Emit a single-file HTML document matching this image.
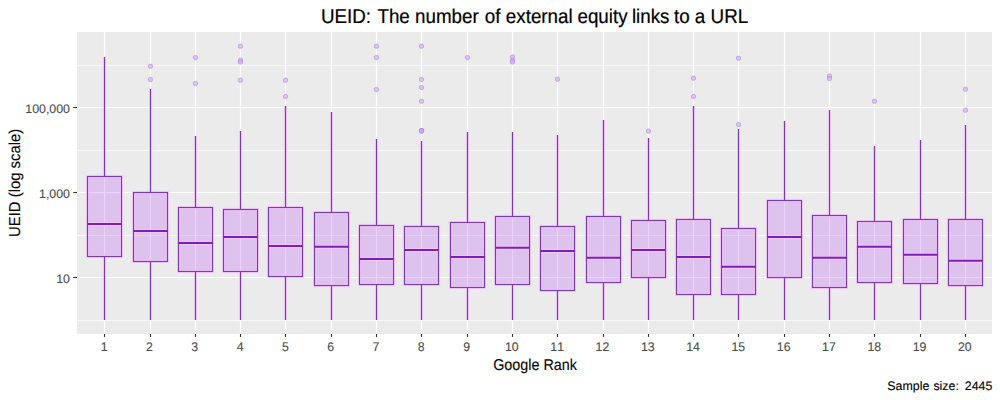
<!DOCTYPE html>
<html><head><meta charset="utf-8"><style>
html,body{margin:0;padding:0;background:#fff;}
body{width:1000px;height:400px;position:relative;overflow:hidden;font-family:"Liberation Sans",sans-serif;}
svg{position:absolute;left:0;top:0;}
text{font-family:"Liberation Sans",sans-serif;text-rendering:geometricPrecision;font-kerning:none;white-space:pre;}
</style></head><body>
<svg width="1000" height="400" viewBox="0 0 1000 400">
<rect x="77" y="32" width="915" height="302" fill="#EBEBEB"/>
<line x1="77" x2="992" y1="320.5" y2="320.5" stroke="#F9F9F9" stroke-width="1"/>
<line x1="77" x2="992" y1="235.5" y2="235.5" stroke="#F9F9F9" stroke-width="1"/>
<line x1="77" x2="992" y1="150.5" y2="150.5" stroke="#F9F9F9" stroke-width="1"/>
<line x1="77" x2="992" y1="65.5" y2="65.5" stroke="#F9F9F9" stroke-width="1"/>
<line x1="77" x2="992" y1="277.5" y2="277.5" stroke="#FFFFFF" stroke-width="1.2"/>
<line x1="77" x2="992" y1="192.5" y2="192.5" stroke="#FFFFFF" stroke-width="1.2"/>
<line x1="77" x2="992" y1="107.5" y2="107.5" stroke="#FFFFFF" stroke-width="1.2"/>
<line x1="104.5" x2="104.5" y1="32" y2="334" stroke="#FFFFFF" stroke-width="1.2"/>
<line x1="150.5" x2="150.5" y1="32" y2="334" stroke="#FFFFFF" stroke-width="1.2"/>
<line x1="195.5" x2="195.5" y1="32" y2="334" stroke="#FFFFFF" stroke-width="1.2"/>
<line x1="240.5" x2="240.5" y1="32" y2="334" stroke="#FFFFFF" stroke-width="1.2"/>
<line x1="285.5" x2="285.5" y1="32" y2="334" stroke="#FFFFFF" stroke-width="1.2"/>
<line x1="331.5" x2="331.5" y1="32" y2="334" stroke="#FFFFFF" stroke-width="1.2"/>
<line x1="376.5" x2="376.5" y1="32" y2="334" stroke="#FFFFFF" stroke-width="1.2"/>
<line x1="421.5" x2="421.5" y1="32" y2="334" stroke="#FFFFFF" stroke-width="1.2"/>
<line x1="467.5" x2="467.5" y1="32" y2="334" stroke="#FFFFFF" stroke-width="1.2"/>
<line x1="512.5" x2="512.5" y1="32" y2="334" stroke="#FFFFFF" stroke-width="1.2"/>
<line x1="557.5" x2="557.5" y1="32" y2="334" stroke="#FFFFFF" stroke-width="1.2"/>
<line x1="603.5" x2="603.5" y1="32" y2="334" stroke="#FFFFFF" stroke-width="1.2"/>
<line x1="648.5" x2="648.5" y1="32" y2="334" stroke="#FFFFFF" stroke-width="1.2"/>
<line x1="693.5" x2="693.5" y1="32" y2="334" stroke="#FFFFFF" stroke-width="1.2"/>
<line x1="738.5" x2="738.5" y1="32" y2="334" stroke="#FFFFFF" stroke-width="1.2"/>
<line x1="784.5" x2="784.5" y1="32" y2="334" stroke="#FFFFFF" stroke-width="1.2"/>
<line x1="829.5" x2="829.5" y1="32" y2="334" stroke="#FFFFFF" stroke-width="1.2"/>
<line x1="874.5" x2="874.5" y1="32" y2="334" stroke="#FFFFFF" stroke-width="1.2"/>
<line x1="920.5" x2="920.5" y1="32" y2="334" stroke="#FFFFFF" stroke-width="1.2"/>
<line x1="965.5" x2="965.5" y1="32" y2="334" stroke="#FFFFFF" stroke-width="1.2"/>
<line x1="104.5" x2="104.5" y1="57" y2="176.5" stroke="#F7C6FF" stroke-opacity="0.75" stroke-width="3.2"/>
<line x1="104.5" x2="104.5" y1="256.5" y2="320" stroke="#F7C6FF" stroke-opacity="0.75" stroke-width="3.2"/>
<rect x="87.5" y="176.5" width="34.0" height="80.0" fill="#A020F0" fill-opacity="0.2"/>
<rect x="87.5" y="176.5" width="34.0" height="80.0" fill="none" stroke="#F7C6FF" stroke-opacity="0.75" stroke-width="3.2"/>
<line x1="87.5" x2="121.5" y1="224" y2="224" stroke="#F7C6FF" stroke-opacity="0.75" stroke-width="4.25"/>
<line x1="104.5" x2="104.5" y1="57" y2="176.5" stroke="#7C3AB0" stroke-width="1.15"/>
<line x1="104.5" x2="104.5" y1="256.5" y2="320" stroke="#7C3AB0" stroke-width="1.15"/>
<rect x="87.5" y="176.5" width="34.0" height="80.0" fill="none" stroke="#7C3AB0" stroke-width="1.15"/>
<line x1="87.5" x2="121.5" y1="224" y2="224" stroke="#7A20B8" stroke-width="2.2"/>
<line x1="150.5" x2="150.5" y1="89" y2="192.5" stroke="#F7C6FF" stroke-opacity="0.75" stroke-width="3.2"/>
<line x1="150.5" x2="150.5" y1="261.5" y2="320" stroke="#F7C6FF" stroke-opacity="0.75" stroke-width="3.2"/>
<rect x="133.5" y="192.5" width="34.0" height="69.0" fill="#A020F0" fill-opacity="0.2"/>
<rect x="133.5" y="192.5" width="34.0" height="69.0" fill="none" stroke="#F7C6FF" stroke-opacity="0.75" stroke-width="3.2"/>
<line x1="133.5" x2="167.5" y1="231" y2="231" stroke="#F7C6FF" stroke-opacity="0.75" stroke-width="4.25"/>
<line x1="150.5" x2="150.5" y1="89" y2="192.5" stroke="#7C3AB0" stroke-width="1.15"/>
<line x1="150.5" x2="150.5" y1="261.5" y2="320" stroke="#7C3AB0" stroke-width="1.15"/>
<rect x="133.5" y="192.5" width="34.0" height="69.0" fill="none" stroke="#7C3AB0" stroke-width="1.15"/>
<line x1="133.5" x2="167.5" y1="231" y2="231" stroke="#7A20B8" stroke-width="2.2"/>
<circle cx="150.5" cy="66.25" r="2.2" fill="#D6B2F4" fill-opacity="0.75" stroke="#A070D0" stroke-opacity="0.45" stroke-width="1.0"/>
<circle cx="150.5" cy="79.5" r="2.2" fill="#D6B2F4" fill-opacity="0.75" stroke="#A070D0" stroke-opacity="0.45" stroke-width="1.0"/>
<line x1="195.5" x2="195.5" y1="136" y2="207.5" stroke="#F7C6FF" stroke-opacity="0.75" stroke-width="3.2"/>
<line x1="195.5" x2="195.5" y1="271.5" y2="320" stroke="#F7C6FF" stroke-opacity="0.75" stroke-width="3.2"/>
<rect x="178.5" y="207.5" width="34.0" height="64.0" fill="#A020F0" fill-opacity="0.2"/>
<rect x="178.5" y="207.5" width="34.0" height="64.0" fill="none" stroke="#F7C6FF" stroke-opacity="0.75" stroke-width="3.2"/>
<line x1="178.5" x2="212.5" y1="243" y2="243" stroke="#F7C6FF" stroke-opacity="0.75" stroke-width="4.25"/>
<line x1="195.5" x2="195.5" y1="136" y2="207.5" stroke="#7C3AB0" stroke-width="1.15"/>
<line x1="195.5" x2="195.5" y1="271.5" y2="320" stroke="#7C3AB0" stroke-width="1.15"/>
<rect x="178.5" y="207.5" width="34.0" height="64.0" fill="none" stroke="#7C3AB0" stroke-width="1.15"/>
<line x1="178.5" x2="212.5" y1="243" y2="243" stroke="#7A20B8" stroke-width="2.2"/>
<circle cx="195.5" cy="57.5" r="2.2" fill="#D6B2F4" fill-opacity="0.75" stroke="#A070D0" stroke-opacity="0.45" stroke-width="1.0"/>
<circle cx="195.5" cy="83.5" r="2.2" fill="#D6B2F4" fill-opacity="0.75" stroke="#A070D0" stroke-opacity="0.45" stroke-width="1.0"/>
<line x1="240.5" x2="240.5" y1="131" y2="209.5" stroke="#F7C6FF" stroke-opacity="0.75" stroke-width="3.2"/>
<line x1="240.5" x2="240.5" y1="271.5" y2="320" stroke="#F7C6FF" stroke-opacity="0.75" stroke-width="3.2"/>
<rect x="223.5" y="209.5" width="34.0" height="62.0" fill="#A020F0" fill-opacity="0.2"/>
<rect x="223.5" y="209.5" width="34.0" height="62.0" fill="none" stroke="#F7C6FF" stroke-opacity="0.75" stroke-width="3.2"/>
<line x1="223.5" x2="257.5" y1="237" y2="237" stroke="#F7C6FF" stroke-opacity="0.75" stroke-width="4.25"/>
<line x1="240.5" x2="240.5" y1="131" y2="209.5" stroke="#7C3AB0" stroke-width="1.15"/>
<line x1="240.5" x2="240.5" y1="271.5" y2="320" stroke="#7C3AB0" stroke-width="1.15"/>
<rect x="223.5" y="209.5" width="34.0" height="62.0" fill="none" stroke="#7C3AB0" stroke-width="1.15"/>
<line x1="223.5" x2="257.5" y1="237" y2="237" stroke="#7A20B8" stroke-width="2.2"/>
<circle cx="240.5" cy="46.25" r="2.2" fill="#D6B2F4" fill-opacity="0.75" stroke="#A070D0" stroke-opacity="0.45" stroke-width="1.0"/>
<circle cx="240.5" cy="60.25" r="2.2" fill="#D6B2F4" fill-opacity="0.75" stroke="#A070D0" stroke-opacity="0.45" stroke-width="1.0"/>
<circle cx="240.5" cy="62" r="2.2" fill="#D6B2F4" fill-opacity="0.75" stroke="#A070D0" stroke-opacity="0.45" stroke-width="1.0"/>
<circle cx="240.5" cy="80.25" r="2.2" fill="#D6B2F4" fill-opacity="0.75" stroke="#A070D0" stroke-opacity="0.45" stroke-width="1.0"/>
<line x1="285.5" x2="285.5" y1="106" y2="207.5" stroke="#F7C6FF" stroke-opacity="0.75" stroke-width="3.2"/>
<line x1="285.5" x2="285.5" y1="276.5" y2="320" stroke="#F7C6FF" stroke-opacity="0.75" stroke-width="3.2"/>
<rect x="268.5" y="207.5" width="34.0" height="69.0" fill="#A020F0" fill-opacity="0.2"/>
<rect x="268.5" y="207.5" width="34.0" height="69.0" fill="none" stroke="#F7C6FF" stroke-opacity="0.75" stroke-width="3.2"/>
<line x1="268.5" x2="302.5" y1="246" y2="246" stroke="#F7C6FF" stroke-opacity="0.75" stroke-width="4.25"/>
<line x1="285.5" x2="285.5" y1="106" y2="207.5" stroke="#7C3AB0" stroke-width="1.15"/>
<line x1="285.5" x2="285.5" y1="276.5" y2="320" stroke="#7C3AB0" stroke-width="1.15"/>
<rect x="268.5" y="207.5" width="34.0" height="69.0" fill="none" stroke="#7C3AB0" stroke-width="1.15"/>
<line x1="268.5" x2="302.5" y1="246" y2="246" stroke="#7A20B8" stroke-width="2.2"/>
<circle cx="285.5" cy="80.25" r="2.2" fill="#D6B2F4" fill-opacity="0.75" stroke="#A070D0" stroke-opacity="0.45" stroke-width="1.0"/>
<circle cx="285.5" cy="96.5" r="2.2" fill="#D6B2F4" fill-opacity="0.75" stroke="#A070D0" stroke-opacity="0.45" stroke-width="1.0"/>
<line x1="331.5" x2="331.5" y1="112" y2="212.5" stroke="#F7C6FF" stroke-opacity="0.75" stroke-width="3.2"/>
<line x1="331.5" x2="331.5" y1="285.5" y2="320" stroke="#F7C6FF" stroke-opacity="0.75" stroke-width="3.2"/>
<rect x="314.5" y="212.5" width="34.0" height="73.0" fill="#A020F0" fill-opacity="0.2"/>
<rect x="314.5" y="212.5" width="34.0" height="73.0" fill="none" stroke="#F7C6FF" stroke-opacity="0.75" stroke-width="3.2"/>
<line x1="314.5" x2="348.5" y1="246.75" y2="246.75" stroke="#F7C6FF" stroke-opacity="0.75" stroke-width="4.25"/>
<line x1="331.5" x2="331.5" y1="112" y2="212.5" stroke="#7C3AB0" stroke-width="1.15"/>
<line x1="331.5" x2="331.5" y1="285.5" y2="320" stroke="#7C3AB0" stroke-width="1.15"/>
<rect x="314.5" y="212.5" width="34.0" height="73.0" fill="none" stroke="#7C3AB0" stroke-width="1.15"/>
<line x1="314.5" x2="348.5" y1="246.75" y2="246.75" stroke="#7A20B8" stroke-width="2.2"/>
<line x1="376.5" x2="376.5" y1="139" y2="225.5" stroke="#F7C6FF" stroke-opacity="0.75" stroke-width="3.2"/>
<line x1="376.5" x2="376.5" y1="284.5" y2="320" stroke="#F7C6FF" stroke-opacity="0.75" stroke-width="3.2"/>
<rect x="359.5" y="225.5" width="34.0" height="59.0" fill="#A020F0" fill-opacity="0.2"/>
<rect x="359.5" y="225.5" width="34.0" height="59.0" fill="none" stroke="#F7C6FF" stroke-opacity="0.75" stroke-width="3.2"/>
<line x1="359.5" x2="393.5" y1="259" y2="259" stroke="#F7C6FF" stroke-opacity="0.75" stroke-width="4.25"/>
<line x1="376.5" x2="376.5" y1="139" y2="225.5" stroke="#7C3AB0" stroke-width="1.15"/>
<line x1="376.5" x2="376.5" y1="284.5" y2="320" stroke="#7C3AB0" stroke-width="1.15"/>
<rect x="359.5" y="225.5" width="34.0" height="59.0" fill="none" stroke="#7C3AB0" stroke-width="1.15"/>
<line x1="359.5" x2="393.5" y1="259" y2="259" stroke="#7A20B8" stroke-width="2.2"/>
<circle cx="376.5" cy="46.25" r="2.2" fill="#D6B2F4" fill-opacity="0.75" stroke="#A070D0" stroke-opacity="0.45" stroke-width="1.0"/>
<circle cx="376.5" cy="57.5" r="2.2" fill="#D6B2F4" fill-opacity="0.75" stroke="#A070D0" stroke-opacity="0.45" stroke-width="1.0"/>
<circle cx="376.5" cy="89.5" r="2.2" fill="#D6B2F4" fill-opacity="0.75" stroke="#A070D0" stroke-opacity="0.45" stroke-width="1.0"/>
<line x1="421.5" x2="421.5" y1="141" y2="226.5" stroke="#F7C6FF" stroke-opacity="0.75" stroke-width="3.2"/>
<line x1="421.5" x2="421.5" y1="284.5" y2="320" stroke="#F7C6FF" stroke-opacity="0.75" stroke-width="3.2"/>
<rect x="404.5" y="226.5" width="34.0" height="58.0" fill="#A020F0" fill-opacity="0.2"/>
<rect x="404.5" y="226.5" width="34.0" height="58.0" fill="none" stroke="#F7C6FF" stroke-opacity="0.75" stroke-width="3.2"/>
<line x1="404.5" x2="438.5" y1="250" y2="250" stroke="#F7C6FF" stroke-opacity="0.75" stroke-width="4.25"/>
<line x1="421.5" x2="421.5" y1="141" y2="226.5" stroke="#7C3AB0" stroke-width="1.15"/>
<line x1="421.5" x2="421.5" y1="284.5" y2="320" stroke="#7C3AB0" stroke-width="1.15"/>
<rect x="404.5" y="226.5" width="34.0" height="58.0" fill="none" stroke="#7C3AB0" stroke-width="1.15"/>
<line x1="404.5" x2="438.5" y1="250" y2="250" stroke="#7A20B8" stroke-width="2.2"/>
<circle cx="421.5" cy="46.25" r="2.2" fill="#D6B2F4" fill-opacity="0.75" stroke="#A070D0" stroke-opacity="0.45" stroke-width="1.0"/>
<circle cx="421.5" cy="79.5" r="2.2" fill="#D6B2F4" fill-opacity="0.75" stroke="#A070D0" stroke-opacity="0.45" stroke-width="1.0"/>
<circle cx="421.5" cy="87.5" r="2.2" fill="#D6B2F4" fill-opacity="0.75" stroke="#A070D0" stroke-opacity="0.45" stroke-width="1.0"/>
<circle cx="421.5" cy="101.25" r="2.2" fill="#D6B2F4" fill-opacity="0.75" stroke="#A070D0" stroke-opacity="0.45" stroke-width="1.0"/>
<circle cx="421.5" cy="130.5" r="2.2" fill="#D6B2F4" fill-opacity="0.75" stroke="#A070D0" stroke-opacity="0.45" stroke-width="1.0"/>
<circle cx="421.5" cy="130.7" r="2.2" fill="#D6B2F4" fill-opacity="0.75" stroke="#A070D0" stroke-opacity="0.45" stroke-width="1.0"/>
<circle cx="421.5" cy="130.9" r="2.2" fill="#D6B2F4" fill-opacity="0.75" stroke="#A070D0" stroke-opacity="0.45" stroke-width="1.0"/>
<circle cx="421.5" cy="131.0" r="2.2" fill="#D6B2F4" fill-opacity="0.75" stroke="#A070D0" stroke-opacity="0.45" stroke-width="1.0"/>
<line x1="467.5" x2="467.5" y1="132" y2="222.5" stroke="#F7C6FF" stroke-opacity="0.75" stroke-width="3.2"/>
<line x1="467.5" x2="467.5" y1="287.5" y2="320" stroke="#F7C6FF" stroke-opacity="0.75" stroke-width="3.2"/>
<rect x="450.5" y="222.5" width="34.0" height="65.0" fill="#A020F0" fill-opacity="0.2"/>
<rect x="450.5" y="222.5" width="34.0" height="65.0" fill="none" stroke="#F7C6FF" stroke-opacity="0.75" stroke-width="3.2"/>
<line x1="450.5" x2="484.5" y1="257" y2="257" stroke="#F7C6FF" stroke-opacity="0.75" stroke-width="4.25"/>
<line x1="467.5" x2="467.5" y1="132" y2="222.5" stroke="#7C3AB0" stroke-width="1.15"/>
<line x1="467.5" x2="467.5" y1="287.5" y2="320" stroke="#7C3AB0" stroke-width="1.15"/>
<rect x="450.5" y="222.5" width="34.0" height="65.0" fill="none" stroke="#7C3AB0" stroke-width="1.15"/>
<line x1="450.5" x2="484.5" y1="257" y2="257" stroke="#7A20B8" stroke-width="2.2"/>
<circle cx="467.5" cy="57.5" r="2.2" fill="#D6B2F4" fill-opacity="0.75" stroke="#A070D0" stroke-opacity="0.45" stroke-width="1.0"/>
<line x1="512.5" x2="512.5" y1="132" y2="216.5" stroke="#F7C6FF" stroke-opacity="0.75" stroke-width="3.2"/>
<line x1="512.5" x2="512.5" y1="284.5" y2="320" stroke="#F7C6FF" stroke-opacity="0.75" stroke-width="3.2"/>
<rect x="495.5" y="216.5" width="34.0" height="68.0" fill="#A020F0" fill-opacity="0.2"/>
<rect x="495.5" y="216.5" width="34.0" height="68.0" fill="none" stroke="#F7C6FF" stroke-opacity="0.75" stroke-width="3.2"/>
<line x1="495.5" x2="529.5" y1="247.75" y2="247.75" stroke="#F7C6FF" stroke-opacity="0.75" stroke-width="4.25"/>
<line x1="512.5" x2="512.5" y1="132" y2="216.5" stroke="#7C3AB0" stroke-width="1.15"/>
<line x1="512.5" x2="512.5" y1="284.5" y2="320" stroke="#7C3AB0" stroke-width="1.15"/>
<rect x="495.5" y="216.5" width="34.0" height="68.0" fill="none" stroke="#7C3AB0" stroke-width="1.15"/>
<line x1="495.5" x2="529.5" y1="247.75" y2="247.75" stroke="#7A20B8" stroke-width="2.2"/>
<circle cx="512.5" cy="57" r="2.2" fill="#D6B2F4" fill-opacity="0.75" stroke="#A070D0" stroke-opacity="0.45" stroke-width="1.0"/>
<circle cx="512.5" cy="60.25" r="2.2" fill="#D6B2F4" fill-opacity="0.75" stroke="#A070D0" stroke-opacity="0.45" stroke-width="1.0"/>
<circle cx="512.5" cy="62" r="2.2" fill="#D6B2F4" fill-opacity="0.75" stroke="#A070D0" stroke-opacity="0.45" stroke-width="1.0"/>
<line x1="557.5" x2="557.5" y1="135" y2="226.5" stroke="#F7C6FF" stroke-opacity="0.75" stroke-width="3.2"/>
<line x1="557.5" x2="557.5" y1="290.5" y2="320" stroke="#F7C6FF" stroke-opacity="0.75" stroke-width="3.2"/>
<rect x="540.5" y="226.5" width="34.0" height="64.0" fill="#A020F0" fill-opacity="0.2"/>
<rect x="540.5" y="226.5" width="34.0" height="64.0" fill="none" stroke="#F7C6FF" stroke-opacity="0.75" stroke-width="3.2"/>
<line x1="540.5" x2="574.5" y1="251" y2="251" stroke="#F7C6FF" stroke-opacity="0.75" stroke-width="4.25"/>
<line x1="557.5" x2="557.5" y1="135" y2="226.5" stroke="#7C3AB0" stroke-width="1.15"/>
<line x1="557.5" x2="557.5" y1="290.5" y2="320" stroke="#7C3AB0" stroke-width="1.15"/>
<rect x="540.5" y="226.5" width="34.0" height="64.0" fill="none" stroke="#7C3AB0" stroke-width="1.15"/>
<line x1="540.5" x2="574.5" y1="251" y2="251" stroke="#7A20B8" stroke-width="2.2"/>
<circle cx="557.5" cy="79.25" r="2.2" fill="#D6B2F4" fill-opacity="0.75" stroke="#A070D0" stroke-opacity="0.45" stroke-width="1.0"/>
<line x1="603.5" x2="603.5" y1="120" y2="216.5" stroke="#F7C6FF" stroke-opacity="0.75" stroke-width="3.2"/>
<line x1="603.5" x2="603.5" y1="282.5" y2="320" stroke="#F7C6FF" stroke-opacity="0.75" stroke-width="3.2"/>
<rect x="586.5" y="216.5" width="34.0" height="66.0" fill="#A020F0" fill-opacity="0.2"/>
<rect x="586.5" y="216.5" width="34.0" height="66.0" fill="none" stroke="#F7C6FF" stroke-opacity="0.75" stroke-width="3.2"/>
<line x1="586.5" x2="620.5" y1="257.75" y2="257.75" stroke="#F7C6FF" stroke-opacity="0.75" stroke-width="4.25"/>
<line x1="603.5" x2="603.5" y1="120" y2="216.5" stroke="#7C3AB0" stroke-width="1.15"/>
<line x1="603.5" x2="603.5" y1="282.5" y2="320" stroke="#7C3AB0" stroke-width="1.15"/>
<rect x="586.5" y="216.5" width="34.0" height="66.0" fill="none" stroke="#7C3AB0" stroke-width="1.15"/>
<line x1="586.5" x2="620.5" y1="257.75" y2="257.75" stroke="#7A20B8" stroke-width="2.2"/>
<line x1="648.5" x2="648.5" y1="138" y2="220.5" stroke="#F7C6FF" stroke-opacity="0.75" stroke-width="3.2"/>
<line x1="648.5" x2="648.5" y1="277.5" y2="320" stroke="#F7C6FF" stroke-opacity="0.75" stroke-width="3.2"/>
<rect x="631.5" y="220.5" width="34.0" height="57.0" fill="#A020F0" fill-opacity="0.2"/>
<rect x="631.5" y="220.5" width="34.0" height="57.0" fill="none" stroke="#F7C6FF" stroke-opacity="0.75" stroke-width="3.2"/>
<line x1="631.5" x2="665.5" y1="250" y2="250" stroke="#F7C6FF" stroke-opacity="0.75" stroke-width="4.25"/>
<line x1="648.5" x2="648.5" y1="138" y2="220.5" stroke="#7C3AB0" stroke-width="1.15"/>
<line x1="648.5" x2="648.5" y1="277.5" y2="320" stroke="#7C3AB0" stroke-width="1.15"/>
<rect x="631.5" y="220.5" width="34.0" height="57.0" fill="none" stroke="#7C3AB0" stroke-width="1.15"/>
<line x1="631.5" x2="665.5" y1="250" y2="250" stroke="#7A20B8" stroke-width="2.2"/>
<circle cx="648.5" cy="131.1" r="2.2" fill="#D6B2F4" fill-opacity="0.75" stroke="#A070D0" stroke-opacity="0.45" stroke-width="1.0"/>
<line x1="693.5" x2="693.5" y1="106" y2="219.5" stroke="#F7C6FF" stroke-opacity="0.75" stroke-width="3.2"/>
<line x1="693.5" x2="693.5" y1="294.5" y2="320" stroke="#F7C6FF" stroke-opacity="0.75" stroke-width="3.2"/>
<rect x="676.5" y="219.5" width="34.0" height="75.0" fill="#A020F0" fill-opacity="0.2"/>
<rect x="676.5" y="219.5" width="34.0" height="75.0" fill="none" stroke="#F7C6FF" stroke-opacity="0.75" stroke-width="3.2"/>
<line x1="676.5" x2="710.5" y1="257" y2="257" stroke="#F7C6FF" stroke-opacity="0.75" stroke-width="4.25"/>
<line x1="693.5" x2="693.5" y1="106" y2="219.5" stroke="#7C3AB0" stroke-width="1.15"/>
<line x1="693.5" x2="693.5" y1="294.5" y2="320" stroke="#7C3AB0" stroke-width="1.15"/>
<rect x="676.5" y="219.5" width="34.0" height="75.0" fill="none" stroke="#7C3AB0" stroke-width="1.15"/>
<line x1="676.5" x2="710.5" y1="257" y2="257" stroke="#7A20B8" stroke-width="2.2"/>
<circle cx="693.5" cy="78.25" r="2.2" fill="#D6B2F4" fill-opacity="0.75" stroke="#A070D0" stroke-opacity="0.45" stroke-width="1.0"/>
<circle cx="693.5" cy="96.5" r="2.2" fill="#D6B2F4" fill-opacity="0.75" stroke="#A070D0" stroke-opacity="0.45" stroke-width="1.0"/>
<line x1="738.5" x2="738.5" y1="129" y2="228.5" stroke="#F7C6FF" stroke-opacity="0.75" stroke-width="3.2"/>
<line x1="738.5" x2="738.5" y1="294.5" y2="320" stroke="#F7C6FF" stroke-opacity="0.75" stroke-width="3.2"/>
<rect x="721.5" y="228.5" width="34.0" height="66.0" fill="#A020F0" fill-opacity="0.2"/>
<rect x="721.5" y="228.5" width="34.0" height="66.0" fill="none" stroke="#F7C6FF" stroke-opacity="0.75" stroke-width="3.2"/>
<line x1="721.5" x2="755.5" y1="266.75" y2="266.75" stroke="#F7C6FF" stroke-opacity="0.75" stroke-width="4.25"/>
<line x1="738.5" x2="738.5" y1="129" y2="228.5" stroke="#7C3AB0" stroke-width="1.15"/>
<line x1="738.5" x2="738.5" y1="294.5" y2="320" stroke="#7C3AB0" stroke-width="1.15"/>
<rect x="721.5" y="228.5" width="34.0" height="66.0" fill="none" stroke="#7C3AB0" stroke-width="1.15"/>
<line x1="721.5" x2="755.5" y1="266.75" y2="266.75" stroke="#7A20B8" stroke-width="2.2"/>
<circle cx="738.5" cy="58.25" r="2.2" fill="#D6B2F4" fill-opacity="0.75" stroke="#A070D0" stroke-opacity="0.45" stroke-width="1.0"/>
<circle cx="738.5" cy="124.5" r="2.2" fill="#D6B2F4" fill-opacity="0.75" stroke="#A070D0" stroke-opacity="0.45" stroke-width="1.0"/>
<line x1="784.5" x2="784.5" y1="121" y2="200.5" stroke="#F7C6FF" stroke-opacity="0.75" stroke-width="3.2"/>
<line x1="784.5" x2="784.5" y1="277.5" y2="320" stroke="#F7C6FF" stroke-opacity="0.75" stroke-width="3.2"/>
<rect x="767.5" y="200.5" width="34.0" height="77.0" fill="#A020F0" fill-opacity="0.2"/>
<rect x="767.5" y="200.5" width="34.0" height="77.0" fill="none" stroke="#F7C6FF" stroke-opacity="0.75" stroke-width="3.2"/>
<line x1="767.5" x2="801.5" y1="237" y2="237" stroke="#F7C6FF" stroke-opacity="0.75" stroke-width="4.25"/>
<line x1="784.5" x2="784.5" y1="121" y2="200.5" stroke="#7C3AB0" stroke-width="1.15"/>
<line x1="784.5" x2="784.5" y1="277.5" y2="320" stroke="#7C3AB0" stroke-width="1.15"/>
<rect x="767.5" y="200.5" width="34.0" height="77.0" fill="none" stroke="#7C3AB0" stroke-width="1.15"/>
<line x1="767.5" x2="801.5" y1="237" y2="237" stroke="#7A20B8" stroke-width="2.2"/>
<line x1="829.5" x2="829.5" y1="110" y2="215.5" stroke="#F7C6FF" stroke-opacity="0.75" stroke-width="3.2"/>
<line x1="829.5" x2="829.5" y1="287.5" y2="320" stroke="#F7C6FF" stroke-opacity="0.75" stroke-width="3.2"/>
<rect x="812.5" y="215.5" width="34.0" height="72.0" fill="#A020F0" fill-opacity="0.2"/>
<rect x="812.5" y="215.5" width="34.0" height="72.0" fill="none" stroke="#F7C6FF" stroke-opacity="0.75" stroke-width="3.2"/>
<line x1="812.5" x2="846.5" y1="257.75" y2="257.75" stroke="#F7C6FF" stroke-opacity="0.75" stroke-width="4.25"/>
<line x1="829.5" x2="829.5" y1="110" y2="215.5" stroke="#7C3AB0" stroke-width="1.15"/>
<line x1="829.5" x2="829.5" y1="287.5" y2="320" stroke="#7C3AB0" stroke-width="1.15"/>
<rect x="812.5" y="215.5" width="34.0" height="72.0" fill="none" stroke="#7C3AB0" stroke-width="1.15"/>
<line x1="812.5" x2="846.5" y1="257.75" y2="257.75" stroke="#7A20B8" stroke-width="2.2"/>
<circle cx="829.5" cy="76" r="2.2" fill="#D6B2F4" fill-opacity="0.75" stroke="#A070D0" stroke-opacity="0.45" stroke-width="1.0"/>
<circle cx="829.5" cy="78.5" r="2.2" fill="#D6B2F4" fill-opacity="0.75" stroke="#A070D0" stroke-opacity="0.45" stroke-width="1.0"/>
<line x1="874.5" x2="874.5" y1="146" y2="221.5" stroke="#F7C6FF" stroke-opacity="0.75" stroke-width="3.2"/>
<line x1="874.5" x2="874.5" y1="282.5" y2="320" stroke="#F7C6FF" stroke-opacity="0.75" stroke-width="3.2"/>
<rect x="857.5" y="221.5" width="34.0" height="61.0" fill="#A020F0" fill-opacity="0.2"/>
<rect x="857.5" y="221.5" width="34.0" height="61.0" fill="none" stroke="#F7C6FF" stroke-opacity="0.75" stroke-width="3.2"/>
<line x1="857.5" x2="891.5" y1="246.75" y2="246.75" stroke="#F7C6FF" stroke-opacity="0.75" stroke-width="4.25"/>
<line x1="874.5" x2="874.5" y1="146" y2="221.5" stroke="#7C3AB0" stroke-width="1.15"/>
<line x1="874.5" x2="874.5" y1="282.5" y2="320" stroke="#7C3AB0" stroke-width="1.15"/>
<rect x="857.5" y="221.5" width="34.0" height="61.0" fill="none" stroke="#7C3AB0" stroke-width="1.15"/>
<line x1="857.5" x2="891.5" y1="246.75" y2="246.75" stroke="#7A20B8" stroke-width="2.2"/>
<circle cx="874.5" cy="101.25" r="2.2" fill="#D6B2F4" fill-opacity="0.75" stroke="#A070D0" stroke-opacity="0.45" stroke-width="1.0"/>
<line x1="920.5" x2="920.5" y1="140" y2="219.5" stroke="#F7C6FF" stroke-opacity="0.75" stroke-width="3.2"/>
<line x1="920.5" x2="920.5" y1="283.5" y2="320" stroke="#F7C6FF" stroke-opacity="0.75" stroke-width="3.2"/>
<rect x="903.5" y="219.5" width="34.0" height="64.0" fill="#A020F0" fill-opacity="0.2"/>
<rect x="903.5" y="219.5" width="34.0" height="64.0" fill="none" stroke="#F7C6FF" stroke-opacity="0.75" stroke-width="3.2"/>
<line x1="903.5" x2="937.5" y1="254.75" y2="254.75" stroke="#F7C6FF" stroke-opacity="0.75" stroke-width="4.25"/>
<line x1="920.5" x2="920.5" y1="140" y2="219.5" stroke="#7C3AB0" stroke-width="1.15"/>
<line x1="920.5" x2="920.5" y1="283.5" y2="320" stroke="#7C3AB0" stroke-width="1.15"/>
<rect x="903.5" y="219.5" width="34.0" height="64.0" fill="none" stroke="#7C3AB0" stroke-width="1.15"/>
<line x1="903.5" x2="937.5" y1="254.75" y2="254.75" stroke="#7A20B8" stroke-width="2.2"/>
<line x1="965.5" x2="965.5" y1="125" y2="219.5" stroke="#F7C6FF" stroke-opacity="0.75" stroke-width="3.2"/>
<line x1="965.5" x2="965.5" y1="285.5" y2="320" stroke="#F7C6FF" stroke-opacity="0.75" stroke-width="3.2"/>
<rect x="948.5" y="219.5" width="34.0" height="66.0" fill="#A020F0" fill-opacity="0.2"/>
<rect x="948.5" y="219.5" width="34.0" height="66.0" fill="none" stroke="#F7C6FF" stroke-opacity="0.75" stroke-width="3.2"/>
<line x1="948.5" x2="982.5" y1="260.75" y2="260.75" stroke="#F7C6FF" stroke-opacity="0.75" stroke-width="4.25"/>
<line x1="965.5" x2="965.5" y1="125" y2="219.5" stroke="#7C3AB0" stroke-width="1.15"/>
<line x1="965.5" x2="965.5" y1="285.5" y2="320" stroke="#7C3AB0" stroke-width="1.15"/>
<rect x="948.5" y="219.5" width="34.0" height="66.0" fill="none" stroke="#7C3AB0" stroke-width="1.15"/>
<line x1="948.5" x2="982.5" y1="260.75" y2="260.75" stroke="#7A20B8" stroke-width="2.2"/>
<circle cx="965.5" cy="89.25" r="2.2" fill="#D6B2F4" fill-opacity="0.75" stroke="#A070D0" stroke-opacity="0.45" stroke-width="1.0"/>
<circle cx="965.5" cy="110.25" r="2.2" fill="#D6B2F4" fill-opacity="0.75" stroke="#A070D0" stroke-opacity="0.45" stroke-width="1.0"/>
<line x1="73.3" x2="77" y1="277.5" y2="277.5" stroke="#333333" stroke-width="1.1"/>
<line x1="73.3" x2="77" y1="192.5" y2="192.5" stroke="#333333" stroke-width="1.1"/>
<line x1="73.3" x2="77" y1="107.5" y2="107.5" stroke="#333333" stroke-width="1.1"/>
<line x1="104.5" x2="104.5" y1="334" y2="337" stroke="#333333" stroke-width="1.1"/>
<line x1="150.5" x2="150.5" y1="334" y2="337" stroke="#333333" stroke-width="1.1"/>
<line x1="195.5" x2="195.5" y1="334" y2="337" stroke="#333333" stroke-width="1.1"/>
<line x1="240.5" x2="240.5" y1="334" y2="337" stroke="#333333" stroke-width="1.1"/>
<line x1="285.5" x2="285.5" y1="334" y2="337" stroke="#333333" stroke-width="1.1"/>
<line x1="331.5" x2="331.5" y1="334" y2="337" stroke="#333333" stroke-width="1.1"/>
<line x1="376.5" x2="376.5" y1="334" y2="337" stroke="#333333" stroke-width="1.1"/>
<line x1="421.5" x2="421.5" y1="334" y2="337" stroke="#333333" stroke-width="1.1"/>
<line x1="467.5" x2="467.5" y1="334" y2="337" stroke="#333333" stroke-width="1.1"/>
<line x1="512.5" x2="512.5" y1="334" y2="337" stroke="#333333" stroke-width="1.1"/>
<line x1="557.5" x2="557.5" y1="334" y2="337" stroke="#333333" stroke-width="1.1"/>
<line x1="603.5" x2="603.5" y1="334" y2="337" stroke="#333333" stroke-width="1.1"/>
<line x1="648.5" x2="648.5" y1="334" y2="337" stroke="#333333" stroke-width="1.1"/>
<line x1="693.5" x2="693.5" y1="334" y2="337" stroke="#333333" stroke-width="1.1"/>
<line x1="738.5" x2="738.5" y1="334" y2="337" stroke="#333333" stroke-width="1.1"/>
<line x1="784.5" x2="784.5" y1="334" y2="337" stroke="#333333" stroke-width="1.1"/>
<line x1="829.5" x2="829.5" y1="334" y2="337" stroke="#333333" stroke-width="1.1"/>
<line x1="874.5" x2="874.5" y1="334" y2="337" stroke="#333333" stroke-width="1.1"/>
<line x1="920.5" x2="920.5" y1="334" y2="337" stroke="#333333" stroke-width="1.1"/>
<line x1="965.5" x2="965.5" y1="334" y2="337" stroke="#333333" stroke-width="1.1"/>
<text transform="translate(534.85,22.75) scale(1.0,1.064)" y="0" font-size="18.79" fill="#000" stroke="#000" stroke-width="0.2" xml:space="preserve"><tspan x="-213.98">UEID: </tspan><tspan x="-157.45">The </tspan><tspan x="-119.85">number </tspan><tspan x="-50.12">of </tspan><tspan x="-29.03">external </tspan><tspan x="42.64">equity </tspan><tspan x="97.10">links </tspan><tspan x="139.21">to </tspan><tspan x="159.90">a </tspan><tspan x="175.77">URL</tspan></text>
<text transform="translate(69.45,282.80) scale(1.0,1.0)" y="0" font-size="12.35" fill="#4A4A4A" stroke="#4A4A4A" stroke-width="0.1" xml:space="preserve"><tspan x="-13.25">10</tspan></text>
<text transform="translate(69.45,197.80) scale(1.0,1.0)" y="0" font-size="12.35" fill="#4A4A4A" stroke="#4A4A4A" stroke-width="0.1" xml:space="preserve"><tspan x="-30.42">1,000</tspan></text>
<text transform="translate(69.45,112.80) scale(1.0,1.0)" y="0" font-size="12.35" fill="#4A4A4A" stroke="#4A4A4A" stroke-width="0.1" xml:space="preserve"><tspan x="-44.16">100,000</tspan></text>
<text transform="translate(104.18,350.90) scale(1.0,1.02)" y="0" font-size="12.3" fill="#4A4A4A" stroke="#4A4A4A" stroke-width="0.1" xml:space="preserve"><tspan x="-3.42">1</tspan></text>
<text transform="translate(149.48,350.90) scale(1.0,1.02)" y="0" font-size="12.3" fill="#4A4A4A" stroke="#4A4A4A" stroke-width="0.1" xml:space="preserve"><tspan x="-3.42">2</tspan></text>
<text transform="translate(194.77,350.90) scale(1.0,1.02)" y="0" font-size="12.3" fill="#4A4A4A" stroke="#4A4A4A" stroke-width="0.1" xml:space="preserve"><tspan x="-3.42">3</tspan></text>
<text transform="translate(240.07,350.90) scale(1.0,1.02)" y="0" font-size="12.3" fill="#4A4A4A" stroke="#4A4A4A" stroke-width="0.1" xml:space="preserve"><tspan x="-3.42">4</tspan></text>
<text transform="translate(285.37,350.90) scale(1.0,1.02)" y="0" font-size="12.3" fill="#4A4A4A" stroke="#4A4A4A" stroke-width="0.1" xml:space="preserve"><tspan x="-3.42">5</tspan></text>
<text transform="translate(330.66,350.90) scale(1.0,1.02)" y="0" font-size="12.3" fill="#4A4A4A" stroke="#4A4A4A" stroke-width="0.1" xml:space="preserve"><tspan x="-3.42">6</tspan></text>
<text transform="translate(375.96,350.90) scale(1.0,1.02)" y="0" font-size="12.3" fill="#4A4A4A" stroke="#4A4A4A" stroke-width="0.1" xml:space="preserve"><tspan x="-3.42">7</tspan></text>
<text transform="translate(421.26,350.90) scale(1.0,1.02)" y="0" font-size="12.3" fill="#4A4A4A" stroke="#4A4A4A" stroke-width="0.1" xml:space="preserve"><tspan x="-3.42">8</tspan></text>
<text transform="translate(466.55,350.90) scale(1.0,1.02)" y="0" font-size="12.3" fill="#4A4A4A" stroke="#4A4A4A" stroke-width="0.1" xml:space="preserve"><tspan x="-3.42">9</tspan></text>
<text transform="translate(511.85,350.90) scale(1.0,1.02)" y="0" font-size="12.3" fill="#4A4A4A" stroke="#4A4A4A" stroke-width="0.1" xml:space="preserve"><tspan x="-6.84">10</tspan></text>
<text transform="translate(557.15,350.90) scale(1.0,1.02)" y="0" font-size="12.3" fill="#4A4A4A" stroke="#4A4A4A" stroke-width="0.1" xml:space="preserve"><tspan x="-6.84">11</tspan></text>
<text transform="translate(602.45,350.90) scale(1.0,1.02)" y="0" font-size="12.3" fill="#4A4A4A" stroke="#4A4A4A" stroke-width="0.1" xml:space="preserve"><tspan x="-6.84">12</tspan></text>
<text transform="translate(647.74,350.90) scale(1.0,1.02)" y="0" font-size="12.3" fill="#4A4A4A" stroke="#4A4A4A" stroke-width="0.1" xml:space="preserve"><tspan x="-6.84">13</tspan></text>
<text transform="translate(693.04,350.90) scale(1.0,1.02)" y="0" font-size="12.3" fill="#4A4A4A" stroke="#4A4A4A" stroke-width="0.1" xml:space="preserve"><tspan x="-6.84">14</tspan></text>
<text transform="translate(738.34,350.90) scale(1.0,1.02)" y="0" font-size="12.3" fill="#4A4A4A" stroke="#4A4A4A" stroke-width="0.1" xml:space="preserve"><tspan x="-6.84">15</tspan></text>
<text transform="translate(783.63,350.90) scale(1.0,1.02)" y="0" font-size="12.3" fill="#4A4A4A" stroke="#4A4A4A" stroke-width="0.1" xml:space="preserve"><tspan x="-6.84">16</tspan></text>
<text transform="translate(828.93,350.90) scale(1.0,1.02)" y="0" font-size="12.3" fill="#4A4A4A" stroke="#4A4A4A" stroke-width="0.1" xml:space="preserve"><tspan x="-6.84">17</tspan></text>
<text transform="translate(874.23,350.90) scale(1.0,1.02)" y="0" font-size="12.3" fill="#4A4A4A" stroke="#4A4A4A" stroke-width="0.1" xml:space="preserve"><tspan x="-6.84">18</tspan></text>
<text transform="translate(919.52,350.90) scale(1.0,1.02)" y="0" font-size="12.3" fill="#4A4A4A" stroke="#4A4A4A" stroke-width="0.1" xml:space="preserve"><tspan x="-6.84">19</tspan></text>
<text transform="translate(964.82,350.90) scale(1.0,1.02)" y="0" font-size="12.3" fill="#4A4A4A" stroke="#4A4A4A" stroke-width="0.1" xml:space="preserve"><tspan x="-6.84">20</tspan></text>
<text transform="translate(535.40,369.85) scale(1.0,1.095)" y="0" font-size="14.34" fill="#000" stroke="#000" stroke-width="0.1" xml:space="preserve"><tspan x="-42.22">Google </tspan><tspan x="8.00">Rank</tspan></text>
<text transform="translate(19.85,182.75) rotate(-90) scale(1.0,1.067)" y="0" font-size="14.84" fill="#000" stroke="#000" stroke-width="0.1" xml:space="preserve"><tspan x="-54.13">UEID </tspan><tspan x="-14.55">(log </tspan><tspan x="14.32">scale)</tspan></text>
<text transform="translate(992.20,389.80) scale(1.0,1.0)" y="0" font-size="12.39" fill="#000" stroke="#000" stroke-width="0.12" xml:space="preserve"><tspan x="-104.86">Sample </tspan><tspan x="-58.80">size: </tspan><tspan x="-30.18"> </tspan><tspan x="-27.44">2445</tspan></text>
</svg>
</body></html>
